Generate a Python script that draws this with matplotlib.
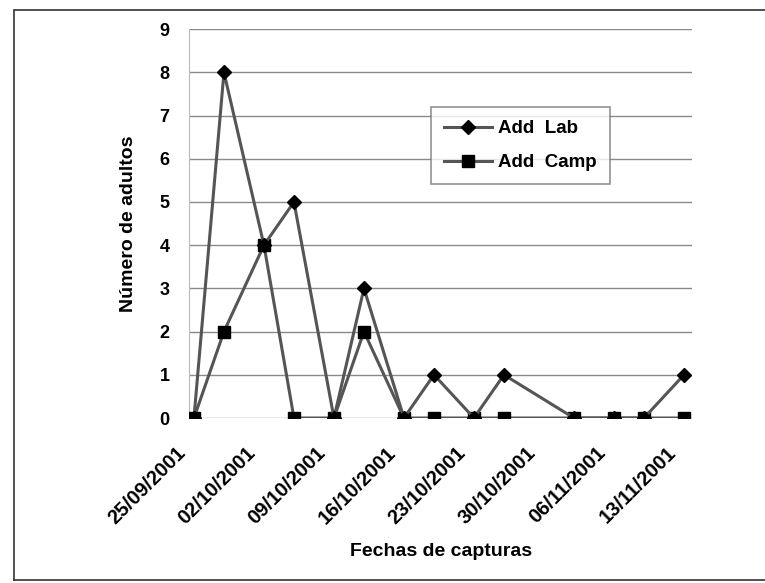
import pandas as pd
import matplotlib
matplotlib.use("Agg")
import matplotlib.pyplot as plt
import matplotlib.dates as mdates
import matplotlib.transforms as mtrans
from matplotlib.lines import Line2D

plt.rcParams['font.family'] = ['Liberation Sans', 'DejaVu Sans']

# datos de capturas
fechas = pd.to_datetime([
    "2001-09-25", "2001-09-28", "2001-10-02", "2001-10-05", "2001-10-09",
    "2001-10-12", "2001-10-16", "2001-10-19", "2001-10-23", "2001-10-26",
    "2001-11-02", "2001-11-06", "2001-11-09", "2001-11-13",
])
add_lab = [0, 8, 4, 5, 0, 3, 0, 1, 0, 1, 0, 0, 0, 1]
add_camp = [0, 2, 4, 0, 0, 2, 0, 0, 0, 0, 0, 0, 0, 0]
ticks_x = pd.date_range("2001-09-25", "2001-11-13", freq="7D")
ticks_y = list(range(0, 10))

fig = plt.figure(figsize=(7.65, 5.83), dpi=100)
ax = fig.add_axes([0.247, 0.283, 0.658, 0.667])

# marco de la figura
for xs, ys in [((0.018, 0.018), (0.005, 0.983)), ((0.02, 1.0), (0.983, 0.983)),
               ((0.018, 1.0), (0.006, 0.006))]:
    fig.add_artist(Line2D(xs, ys, transform=fig.transFigure, color="#333333", lw=1.2))

ax.plot(fechas, add_lab, color="#555555", lw=2.2, marker="D", ms=7,
        mfc="black", mec="black", label="Add  Lab", zorder=4)
ax.plot(fechas, add_camp, color="#555555", lw=2.2, marker="s", ms=8.5,
        mfc="black", mec="black", label="Add  Camp", zorder=3)

ax.set_ylim(0, 9)
ax.set_yticks(ticks_y)
ax.set_xlim(fechas[0] - pd.Timedelta(hours=12), fechas[-1] + pd.Timedelta(hours=20))
ax.set_xticks(ticks_x)
ax.xaxis.set_major_formatter(mdates.DateFormatter("%d/%m/%Y"))

ax.grid(axis="y", color="#8a8a8a", lw=1)
ax.set_axisbelow(True)
for s in ["top", "right", "bottom"]:
    ax.spines[s].set_visible(False)
ax.spines["left"].set_color("#bbbbbb")
ax.tick_params(axis="both", length=0)
ax.tick_params(axis="y", pad=14, labelsize=13)
ax.tick_params(axis="x", pad=8, labelsize=14.5)
for lbl in ax.get_yticklabels():
    lbl.set_fontweight("bold")
offset = mtrans.ScaledTranslation(-18 / 100, -14 / 100, fig.dpi_scale_trans)
for lbl in ax.get_xticklabels():
    lbl.set_rotation(45)
    lbl.set_ha("right")
    lbl.set_rotation_mode("anchor")
    lbl.set_fontweight("bold")
    lbl.set_transform(lbl.get_transform() + offset)

ax.set_ylabel("Número de adultos", fontsize=14, fontweight="bold", labelpad=16)
ax.set_xlabel("Fechas de capturas", fontsize=14, fontweight="bold", labelpad=11)

leg = ax.legend(loc="upper left", bbox_to_anchor=(0.48, 0.80), frameon=True,
                fancybox=False, edgecolor="#777777", fontsize=13.5,
                handlelength=2.6, borderpad=0.7, labelspacing=0.9, handletextpad=0.3,
                borderaxespad=0)
leg.get_frame().set_linewidth(1.2)
for t in leg.get_texts():
    t.set_fontweight("bold")

fig.savefig("out.png", dpi=100)
